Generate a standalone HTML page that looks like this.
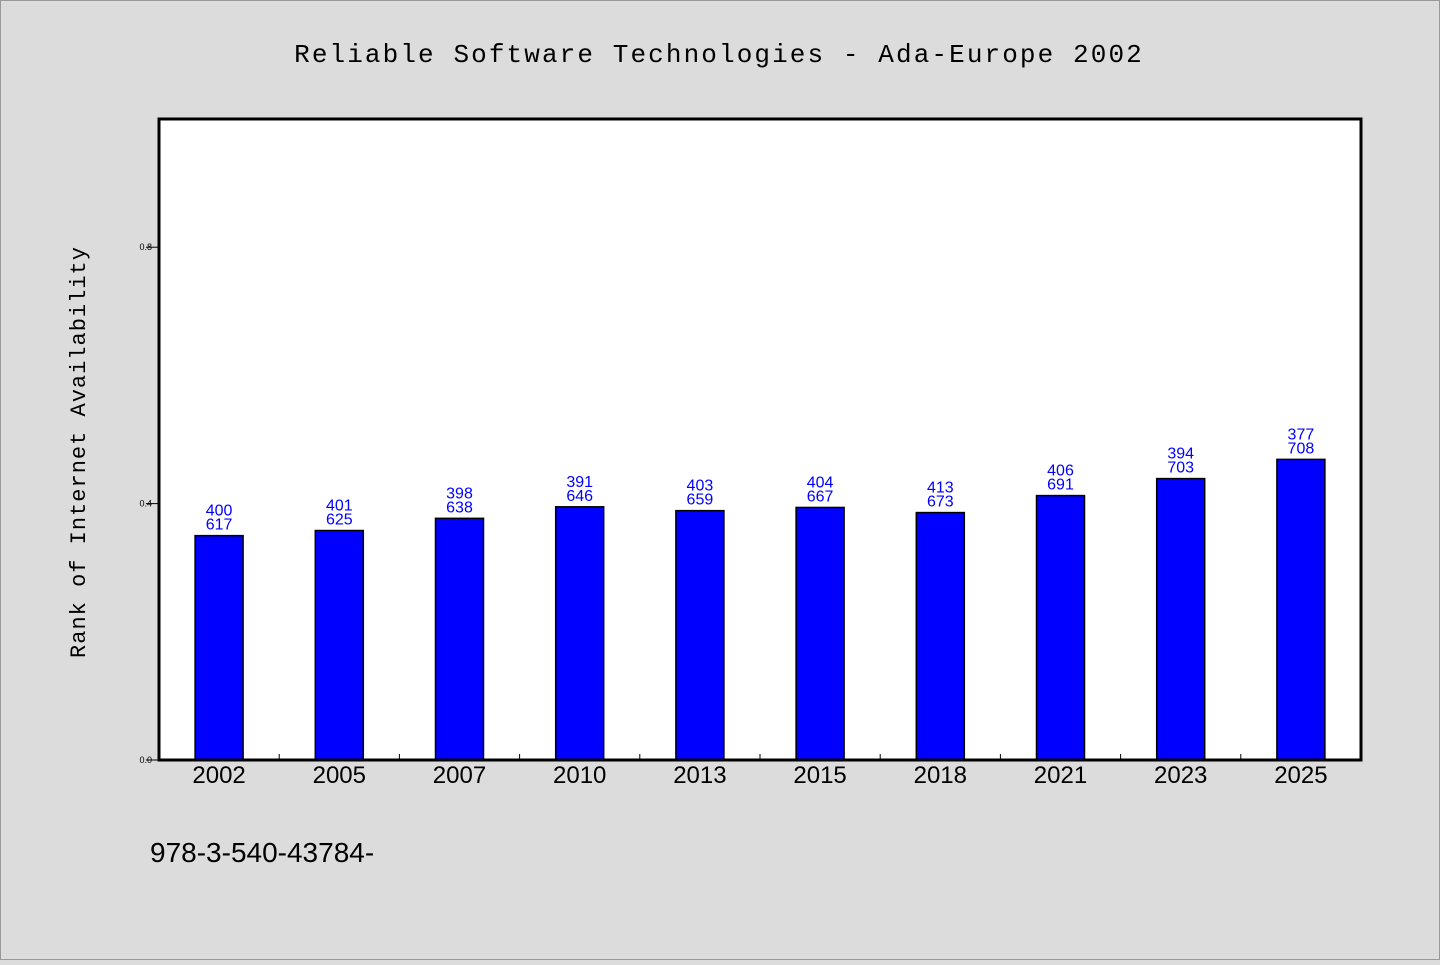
<!DOCTYPE html>
<html><head><meta charset="utf-8"><style>
html,body{margin:0;padding:0;}
body{width:1440px;height:960px;background:#dcdcdc;overflow:hidden;}
svg text{font-family:"Liberation Sans",sans-serif;}
</style></head><body>
<svg id="chart" width="1440" height="960" xmlns="http://www.w3.org/2000/svg">
<rect x="0.5" y="0.5" width="1439" height="959" fill="#dcdcdc" stroke="#999"/>
<text x="719" y="62" text-anchor="middle" font-size="26" style="font-family:'Liberation Mono',monospace;letter-spacing:2.1px">Reliable Software Technologies - Ada-Europe 2002</text>
<rect x="159" y="119" width="1202" height="641" fill="#fff"/>
<g id="bars"></g>
<g id="axes"></g>
<text transform="translate(85,452) rotate(-90)" text-anchor="middle" font-size="22" style="font-family:'Liberation Mono',monospace;letter-spacing:1px">Rank of Internet Availability</text>
<text x="150" y="862" font-size="28">978-3-540-43784-</text>
</svg>
<script>
const categories=["2002","2005","2007","2010","2013","2015","2018","2021","2023","2025"];
const values=[0.350,0.358,0.377,0.395,0.389,0.394,0.386,0.4125,0.439,0.469];
const labelTop=["400","401","398","391","403","404","413","406","394","377"];
const labelBottom=["617","625","638","646","659","667","673","691","703","708"];
const yTicks=[0,0.4,0.8];
const yTickLabels=["0.0","0.4","0.8"];
const NS="http://www.w3.org/2000/svg";
const L=159,R=1361,T=119,B=760,yMax=1.0;
const bw=(R-L)/categories.length;
const y=v=>B-(v/yMax)*(B-T);
const x=i=>L+bw*(i+0.5);
function mk(t,a){const e=document.createElementNS(NS,t);for(const k in a)e.setAttribute(k,a[k]);return e;}
const gb=document.getElementById('bars'),ga=document.getElementById('axes');
values.forEach((v,i)=>{
 const r=mk('rect',{x:x(i)-24,y:y(v),width:48,height:B-y(v),fill:'#0000ff',stroke:'#000','stroke-width':1.5});
 
 
 gb.appendChild(r);
 const t1=mk('text',{x:x(i),y:y(v)-20,'text-anchor':'middle','font-size':16,fill:'#0000ff'});
 t1.textContent=labelTop[i];
 
 
 gb.appendChild(t1);
 const t2=mk('text',{x:x(i),y:y(v)-6,'text-anchor':'middle','font-size':16,fill:'#0000ff'});
 t2.textContent=labelBottom[i];
 
 
 gb.appendChild(t2);
 const xl=mk('text',{x:x(i),y:783,'text-anchor':'middle','font-size':24});
 xl.textContent=categories[i];
 
 
 ga.appendChild(xl);
 if(i>0){const tk=mk('line',{x1:L+bw*i,x2:L+bw*i,y1:B,y2:B-6,stroke:'#000','stroke-width':1});
 
 
 ga.appendChild(tk);}
});
yTicks.forEach((v,i)=>{
 const tk=mk('line',{x1:L-13,x2:L,y1:y(v),y2:y(v),stroke:'#000','stroke-width':1});
 
 
 ga.appendChild(tk);
 const tl=mk('text',{x:152,y:y(v)+3,'text-anchor':'end','font-size':9});
 tl.textContent=yTickLabels[i];
 
 
 ga.appendChild(tl);
});
const frame=mk('rect',{x:L,y:T,width:R-L,height:B-T,fill:'none',stroke:'#000','stroke-width':3});


ga.appendChild(frame);
</script>
</body></html>
